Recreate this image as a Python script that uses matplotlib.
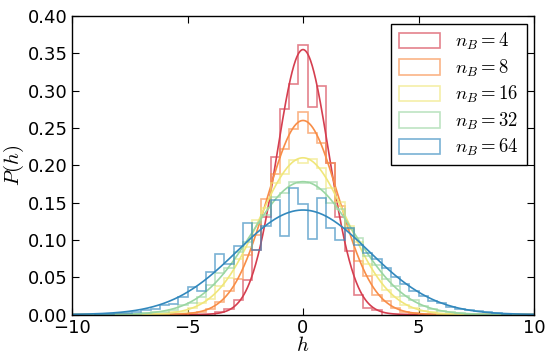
import numpy as np
import matplotlib.pyplot as plt

plt.rcParams['mathtext.fontset'] = 'cm'

# bin width of all histograms, first bin index (bin k is centred on k * width)
bin_width = 0.4

labels = ["$n_B=4$", "$n_B=8$", "$n_B=16$", "$n_B=32$", "$n_B=64$"]
colors = ["#d53e4f", "#f88d47", "#f0e67a", "#9ad6a2", "#3288bd"]

# histogram heights
red_start = -9
red = [0.003, 0.008, 0.019, 0.046, 0.086, 0.131, 0.211, 0.276, 0.309, 0.361,
       0.278, 0.306, 0.203, 0.130, 0.085, 0.026, 0.009, 0.006]

orange_start = -12
orange = [0.002, 0.004, 0.008, 0.017, 0.032, 0.047, 0.080, 0.107, 0.155, 0.188,
          0.222, 0.249, 0.271, 0.243, 0.230, 0.203, 0.146, 0.115, 0.072, 0.052,
          0.026, 0.018, 0.009, 0.004, 0.002]

yellow_start = -16
yellow = [0.001, 0.001, 0.003, 0.004, 0.009, 0.016, 0.021, 0.038, 0.049, 0.074,
          0.090, 0.126, 0.143, 0.176, 0.188, 0.207, 0.203, 0.209, 0.196, 0.170,
          0.151, 0.118, 0.097, 0.068, 0.053, 0.033, 0.024, 0.013, 0.009, 0.005,
          0.003, 0.001, 0.001]

green_start = -18
green = [0.001, 0.002, 0.003, 0.004, 0.006, 0.013, 0.016, 0.024, 0.040, 0.055,
         0.062, 0.084, 0.097, 0.123, 0.134, 0.158, 0.163, 0.177, 0.176, 0.178,
         0.168, 0.150, 0.141, 0.116, 0.103, 0.079, 0.066, 0.047, 0.038, 0.025,
         0.019, 0.011, 0.008, 0.005, 0.003, 0.002, 0.001]

blue_start = -22
blue = [0.001, 0.001, 0.002, 0.002, 0.003, 0.006, 0.007, 0.013, 0.014, 0.024,
        0.037, 0.031, 0.057, 0.081, 0.068, 0.092, 0.123, 0.087, 0.118, 0.153,
        0.105, 0.170, 0.148, 0.101, 0.156, 0.116, 0.100, 0.116, 0.093, 0.082,
        0.075, 0.062, 0.050, 0.041, 0.032, 0.025, 0.018, 0.016, 0.010, 0.008,
        0.006, 0.005, 0.004, 0.002, 0.001]

# gaussian fits: peak height and width
peaks = [0.355, 0.260, 0.210, 0.178, 0.140]
sigmas = [1.124, 1.534, 1.900, 2.240, 2.850]

hists = [(red_start, red), (orange_start, orange), (yellow_start, yellow),
         (green_start, green), (blue_start, blue)]

fig = plt.figure(figsize=(5.5, 3.54), dpi=100)
ax = fig.add_axes([72 / 550, 39.5 / 354, 462 / 550, 298.5 / 354])

h = np.linspace(-10, 10, 801)
for (start, vals), peak, sig, col, lab in zip(hists, peaks, sigmas, colors, labels):
    k = np.arange(start, start + len(vals))
    centers = k * bin_width
    edges = np.append(k - 0.5, k[-1] + 0.5) * bin_width
    ax.hist(centers, bins=edges, weights=vals, histtype="step", color=col,
            alpha=0.65, linewidth=1.2, label=lab)
    ax.plot(h, peak * np.exp(-h ** 2 / (2 * sig ** 2)), color=col, linewidth=1.2)

ax.set_xlim(-10, 10)
ax.set_ylim(0, 0.40)
ax.set_xticks([-10, -5, 0, 5, 10])
ax.set_yticks(np.arange(0, 0.401, 0.05))
ax.set_yticklabels(["%.2f" % v for v in np.arange(0, 0.401, 0.05)])
ax.tick_params(direction="in", top=True, right=True, length=5, width=0.8,
               labelsize=13, pad=3)
for s in ax.spines.values():
    s.set_linewidth(1.0)

ax.set_xlabel("$h$", fontsize=15, labelpad=-1)
ax.set_ylabel("$P(h)$", fontsize=15, labelpad=1)

leg = ax.legend(loc="upper right", fontsize=13.5, fancybox=False, framealpha=1,
                edgecolor="black", handlelength=2.2, handleheight=0.9,
                borderaxespad=0.4, labelspacing=0.28, borderpad=0.4,
                handletextpad=0.8)
leg.get_frame().set_linewidth(1.0)

plt.savefig("out.png", dpi=100)
